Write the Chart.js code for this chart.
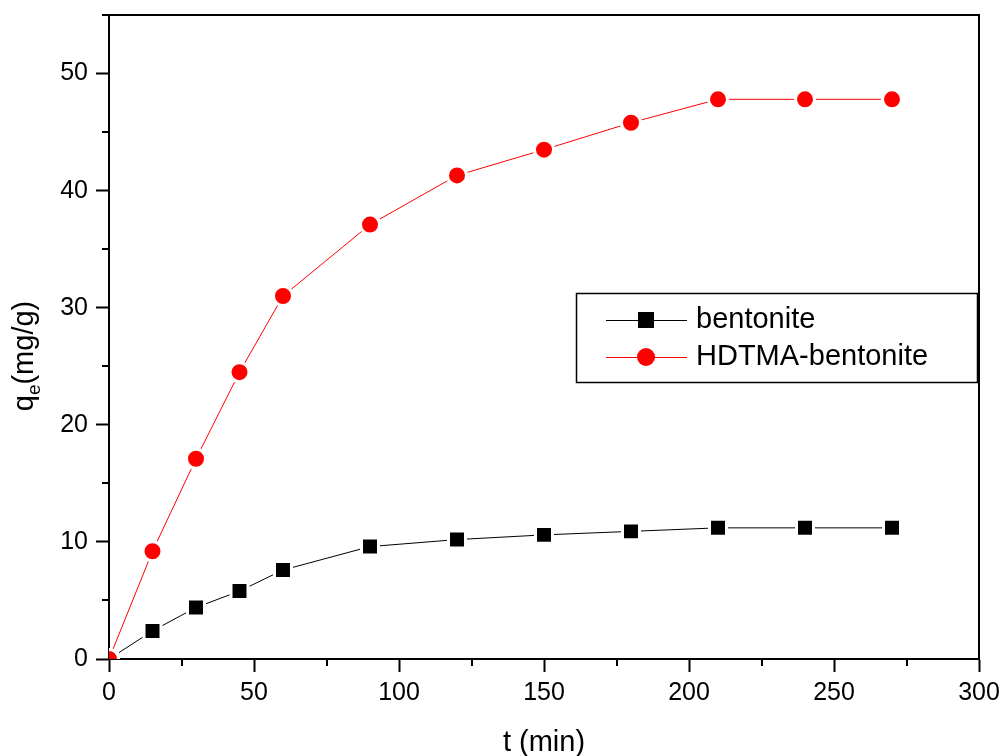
<!DOCTYPE html>
<html>
<head>
<meta charset="utf-8">
<script src="https://cdn.jsdelivr.net/npm/chart.js@4.4.1/dist/chart.umd.min.js"></script>
<style>
  html, body { margin: 0; padding: 0; background: #fff; }
  #wrap { width: 1002px; height: 756px; position: relative; }
</style>
</head>
<body>
<div id="wrap"><canvas id="c" width="1002" height="756"></canvas></div>
<script>
// ---- data ----
const times = [0, 15, 30, 45, 60, 90, 120, 150, 180, 210, 240, 270];
const bentonite = [0, 2.4, 4.4, 5.8, 7.6, 9.6, 10.2, 10.6, 10.9, 11.2, 11.2, 11.2];
const hdtma = [0, 9.2, 17.1, 24.5, 31.0, 37.1, 41.3, 43.5, 45.8, 47.8, 47.8, 47.8];
const seriesLabels = ['bentonite', 'HDTMA-bentonite'];
const xMinorTicks = [25, 75, 125, 175, 225, 275];
const yMinorTicks = [5, 15, 25, 35, 45, 55];
const xTitle = 't (min)';
const yTitleMain = 'q';
const yTitleSub = 'e';
const yTitleRest = '(mg/g)';

const FONT = '"Liberation Sans", Arial, sans-serif';

const framePlugin = {
  id: 'frame',
  beforeDatasetsDraw(chart) {
    const { ctx, chartArea: a } = chart;
    ctx.save();
    ctx.strokeStyle = '#000';
    ctx.lineWidth = 2;
    ctx.strokeRect(a.left, a.top, a.right - a.left, a.bottom - a.top);
    // minor ticks
    const xs = chart.scales.x, ys = chart.scales.y;
    ctx.beginPath();
    xMinorTicks.forEach(v => {
      const px = Math.round(xs.getPixelForValue(v));
      ctx.moveTo(px, a.bottom);
      ctx.lineTo(px, a.bottom + 7);
    });
    yMinorTicks.forEach(v => {
      const py = Math.round(ys.getPixelForValue(v));
      ctx.moveTo(a.left - 7, py);
      ctx.lineTo(a.left, py);
    });
    ctx.stroke();
    ctx.restore();
  },
  afterDraw(chart) {
    const { ctx, chartArea: a } = chart;
    ctx.save();
    // x title
    ctx.fillStyle = '#000';
    ctx.font = '29px ' + FONT;
    ctx.textAlign = 'center';
    ctx.textBaseline = 'alphabetic';
    ctx.fillText(xTitle, (a.left + a.right) / 2, 751);
    // y title with subscript
    ctx.font = '29px ' + FONT;
    const wq = ctx.measureText(yTitleMain).width;
    const wr = ctx.measureText(yTitleRest).width;
    ctx.font = '19px ' + FONT;
    const we = ctx.measureText(yTitleSub).width;
    const total = wq + we + wr;
    ctx.translate(33, 356);
    ctx.rotate(-Math.PI / 2);
    ctx.textAlign = 'left';
    let x0 = -total / 2;
    ctx.font = '29px ' + FONT;
    ctx.fillText(yTitleMain, x0, 0);
    ctx.font = '19px ' + FONT;
    ctx.fillText(yTitleSub, x0 + wq, 7);
    ctx.font = '29px ' + FONT;
    ctx.fillText(yTitleRest, x0 + wq + we, 0);
    ctx.restore();

    // legend
    ctx.save();
    ctx.strokeStyle = '#000';
    ctx.lineWidth = 1.5;
    ctx.strokeRect(576.5, 293.5, 401, 89);
    const rows = [
      { y: 320, color: '#000', style: 'rect', label: seriesLabels[0] },
      { y: 357, color: '#ff0000', style: 'circle', label: seriesLabels[1] }
    ];
    rows.forEach(r => {
      ctx.strokeStyle = r.color;
      ctx.lineWidth = 1;
      ctx.beginPath();
      ctx.moveTo(606, r.y + 0.5);
      ctx.lineTo(687, r.y + 0.5);
      ctx.stroke();
      ctx.fillStyle = r.color;
      if (r.style === 'rect') {
        ctx.fillRect(638, r.y - 8, 16, 16);
      } else {
        ctx.beginPath();
        ctx.arc(646, r.y, 9, 0, Math.PI * 2);
        ctx.fill();
      }
      ctx.fillStyle = '#000';
      ctx.font = '29px ' + FONT;
      ctx.textAlign = 'left';
      ctx.textBaseline = 'middle';
      ctx.fillText(r.label, 696, r.y);
    });
    ctx.restore();
  }
};

const toPts = arr => times.map((t, i) => ({ x: t, y: arr[i] }));

new Chart(document.getElementById('c'), {
  type: 'line',
  data: {
    datasets: [
      {
        label: seriesLabels[0],
        data: toPts(bentonite),
        borderColor: '#000',
        backgroundColor: '#000',
        borderWidth: 1,
        pointStyle: 'rect',
        pointRadius: 12,
        pointBorderColor: '#fff',
        pointBackgroundColor: '#000',
        pointBorderWidth: 3,
        tension: 0,
        order: 2
      },
      {
        label: seriesLabels[1],
        data: toPts(hdtma),
        borderColor: '#ff0000',
        backgroundColor: '#ff0000',
        borderWidth: 1,
        pointStyle: 'circle',
        pointRadius: 9.5,
        pointBorderColor: '#fff',
        pointBackgroundColor: '#ff0000',
        pointBorderWidth: 3,
        tension: 0,
        order: 1
      }
    ]
  },
  options: {
    responsive: false,
    animation: false,
    events: [],
    layout: { padding: { top: 11, right: 23, left: 0, bottom: 0 } },
    plugins: { legend: { display: false }, tooltip: { enabled: false } },
    scales: {
      x: {
        type: 'linear',
        min: 0, max: 300,
        ticks: { stepSize: 50, color: '#000', font: { size: 25, family: FONT }, padding: 6, maxRotation: 0, includeBounds: false },
        grid: { drawOnChartArea: false, drawTicks: true, tickLength: 13, tickWidth: 2, tickColor: '#000' },
        border: { display: true, color: '#000', width: 2 },
        afterFit(s) { s.height = 97; s.paddingLeft = 0; s.paddingRight = 0; s.paddingTop = 0; s.paddingBottom = 0; }
      },
      y: {
        type: 'linear',
        min: 0, max: 55,
        ticks: { stepSize: 10, color: '#000', font: { size: 25, family: FONT }, padding: 8, includeBounds: false },
        grid: { drawOnChartArea: false, drawTicks: true, tickLength: 13, tickWidth: 2, tickColor: '#000' },
        border: { display: true, color: '#000', width: 2 },
        afterFit(s) { s.width = 109; s.paddingLeft = 0; s.paddingRight = 0; s.paddingTop = 0; s.paddingBottom = 0; }
      }
    }
  },
  plugins: [framePlugin]
});
</script>
</body>
</html>
